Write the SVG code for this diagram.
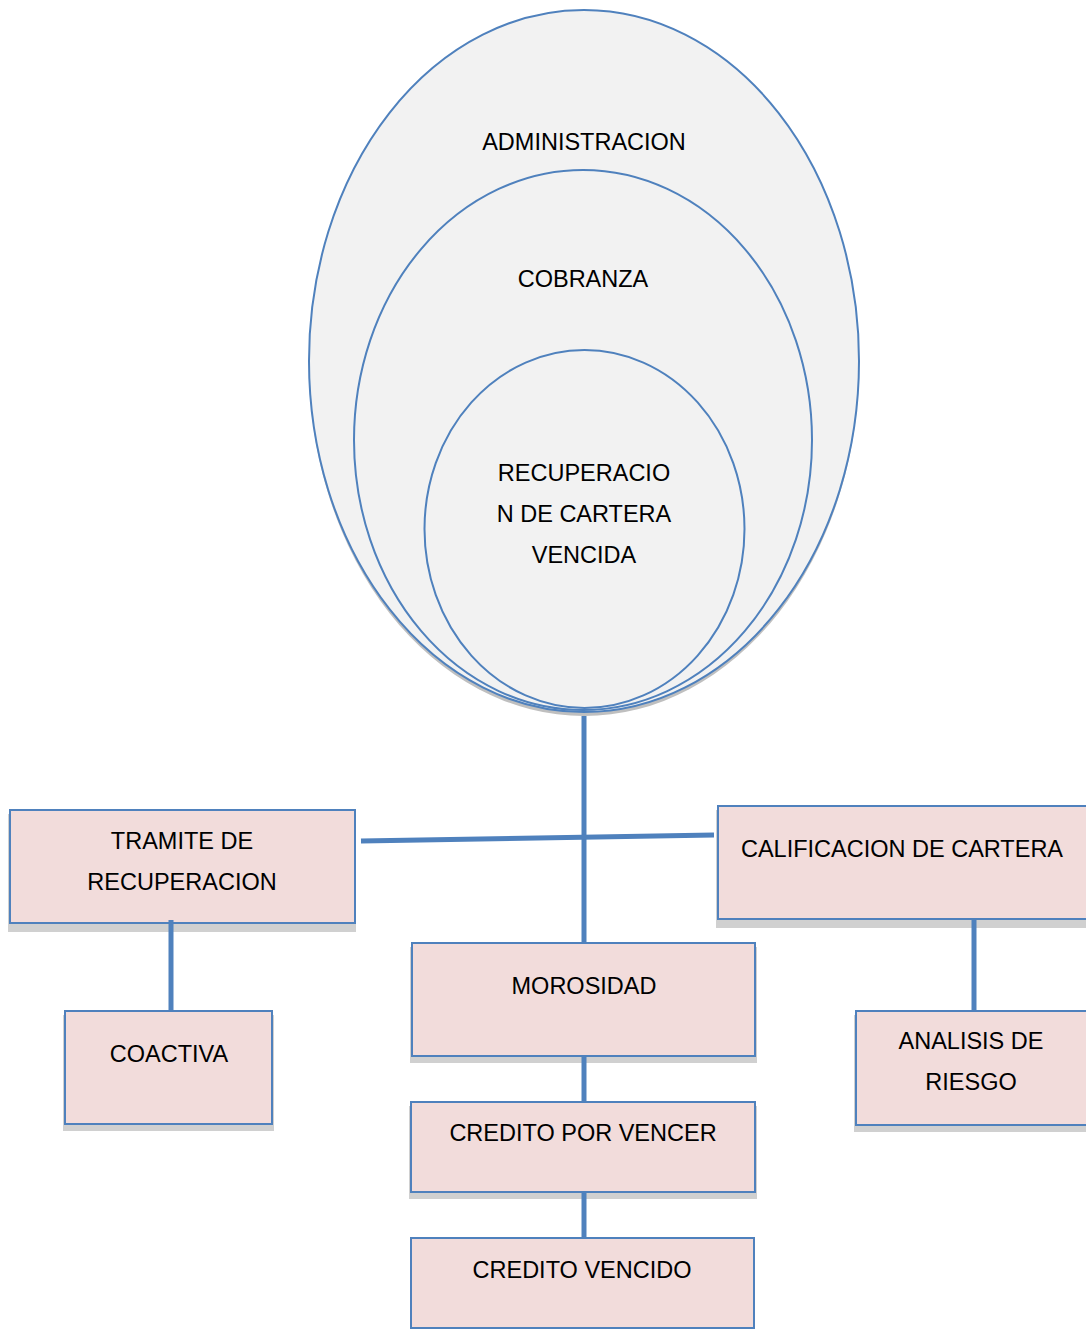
<svg xmlns="http://www.w3.org/2000/svg" width="1086" height="1330" viewBox="0 0 1086 1330">
<style>
.ell{fill:#f2f2f2;stroke:#4f81bd;stroke-width:2}
.esh{fill:#bfbfbf}
.box{fill:#f2dcdb;stroke:#4f81bd;stroke-width:2}
.sh{fill:#d0d0d0}
.t{font-family:"Liberation Sans",Arial,sans-serif;font-size:23.5px;fill:#000;text-anchor:middle}
.c{stroke:#4f81bd;stroke-width:5;fill:none}
</style>
<rect width="1086" height="1330" fill="#fff"/>
<g id="administracion">
<ellipse class="esh" cx="584" cy="365" rx="275" ry="351"/>
<ellipse class="ell" cx="584" cy="361" rx="275" ry="351"/>
<text class="t" x="584" y="150">ADMINISTRACION</text>
</g>
<g id="cobranza">
<ellipse class="ell" cx="583" cy="440" rx="229" ry="270"/>
<text class="t" x="583" y="287">COBRANZA</text>
</g>
<g id="recuperacion">
<ellipse class="ell" cx="584.5" cy="529" rx="160" ry="179"/>
<text class="t" x="584" y="481">RECUPERACIO</text>
<text class="t" x="584" y="522">N DE CARTERA</text>
<text class="t" x="584" y="563">VENCIDA</text>
</g>
<g id="tramite">
<rect class="sh" x="8" y="814" width="348" height="118"/>
<rect class="box" x="10" y="810" width="345" height="113"/>
<text class="t" x="182" y="849">TRAMITE DE</text>
<text class="t" x="182" y="890">RECUPERACION</text>
</g>
<g id="calificacion">
<rect class="sh" x="716" y="810" width="372" height="118"/>
<rect class="box" x="718" y="806" width="369" height="113"/>
<text class="t" x="902" y="857">CALIFICACION DE CARTERA</text>
</g>
<g id="morosidad">
<rect class="sh" x="410" y="947" width="347" height="116"/>
<rect class="box" x="412" y="943" width="343" height="113"/>
<text class="t" x="584" y="994">MOROSIDAD</text>
</g>
<g id="coactiva">
<rect class="sh" x="63" y="1015" width="211" height="116"/>
<rect class="box" x="65" y="1011" width="207" height="113"/>
<text class="t" x="169" y="1062">COACTIVA</text>
</g>
<g id="analisis">
<rect class="sh" x="854" y="1015" width="234" height="117"/>
<rect class="box" x="856" y="1011" width="231" height="114"/>
<text class="t" x="971" y="1049">ANALISIS DE</text>
<text class="t" x="971" y="1090">RIESGO</text>
</g>
<g id="credito_por_vencer">
<rect class="sh" x="409" y="1106" width="348" height="93"/>
<rect class="box" x="411" y="1102" width="344" height="90"/>
<text class="t" x="583" y="1141">CREDITO POR VENCER</text>
</g>
<g id="credito_vencido">
<rect class="box" x="411" y="1238" width="343" height="90"/>
<text class="t" x="582" y="1278">CREDITO VENCIDO</text>
</g>
<g id="connectors">
<line class="c" x1="584" y1="716" x2="584" y2="942"/>
<line class="c" x1="361" y1="841" x2="714" y2="835"/>
<line class="c" x1="171" y1="920" x2="171" y2="1010"/>
<line class="c" x1="974" y1="920" x2="974" y2="1010"/>
<line class="c" x1="584" y1="1057" x2="584" y2="1101"/>
<line class="c" x1="584" y1="1193" x2="584" y2="1237"/>
</g>
</svg>
